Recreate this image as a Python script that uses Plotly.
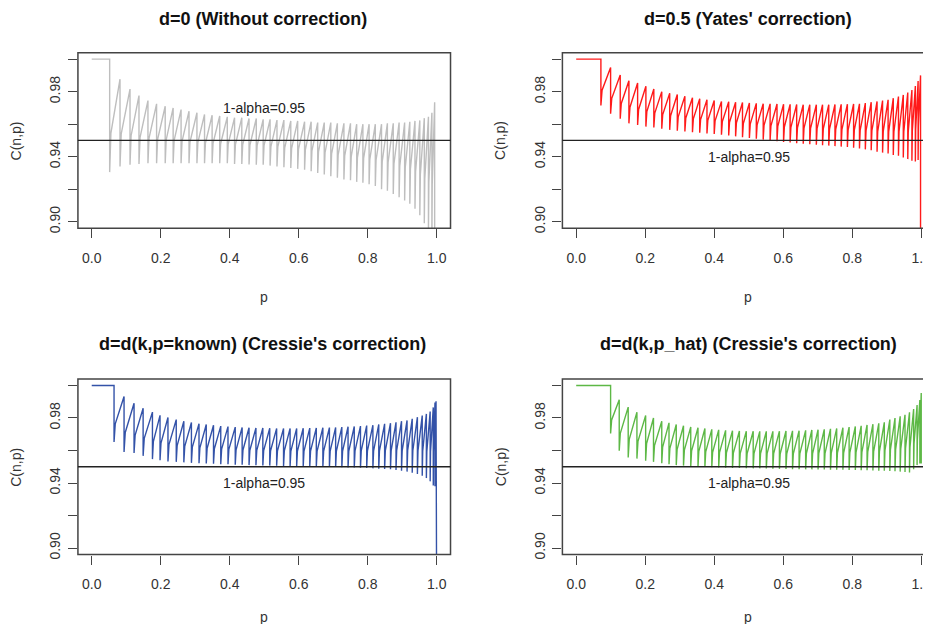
import plotly.graph_objects as go

# ---------------- data ----------------
# Each panel: jump locations of the coverage curve, the value just after each
# downward jump (tooth bottom) and the value reached at the end of each tooth (tooth top).
p_end = 1.0

jumps_d0 = [0.052, 0.082, 0.111, 0.137, 0.163, 0.188, 0.213, 0.236, 0.259, 0.282,
            0.305, 0.327, 0.349, 0.371, 0.393, 0.414, 0.435, 0.456, 0.477, 0.497,
            0.517, 0.537, 0.557, 0.577, 0.597, 0.617, 0.636, 0.655, 0.674, 0.693,
            0.712, 0.731, 0.750, 0.768, 0.786, 0.804, 0.822, 0.840, 0.857, 0.874,
            0.891, 0.907, 0.922, 0.937, 0.951, 0.964, 0.976, 0.986, 0.994]
lows_d0 = [0.9305, 0.934, 0.935, 0.9355, 0.936, 0.936, 0.936, 0.936, 0.936, 0.936,
           0.936, 0.936, 0.936, 0.936, 0.936, 0.9355, 0.9355, 0.9352, 0.935, 0.935,
           0.9345, 0.934, 0.9335, 0.933, 0.9325, 0.932, 0.931, 0.930, 0.929, 0.928,
           0.927, 0.926, 0.9255, 0.9245, 0.924, 0.923, 0.922, 0.920, 0.919, 0.917,
           0.915, 0.913, 0.911, 0.908, 0.904, 0.899, 0.893, 0.886, 0.875]
highs_d0 = [0.9877, 0.9816, 0.9776, 0.9745, 0.9725, 0.971, 0.970, 0.969, 0.968, 0.967,
            0.966, 0.9655, 0.965, 0.9645, 0.964, 0.964, 0.9635, 0.9635, 0.963, 0.963,
            0.9625, 0.9625, 0.962, 0.962, 0.9615, 0.9615, 0.961, 0.961, 0.961, 0.9605,
            0.9605, 0.9605, 0.960, 0.960, 0.960, 0.960, 0.960, 0.9605, 0.9605, 0.961,
            0.961, 0.9615, 0.962, 0.9623, 0.9637, 0.9645, 0.967, 0.9735, 0.890]

jumps_yates = [0.0716, 0.0997, 0.1276, 0.1528, 0.178, 0.202, 0.225, 0.248, 0.271, 0.293,
               0.315, 0.337, 0.358, 0.379, 0.400, 0.421, 0.442, 0.462, 0.482, 0.502,
               0.522, 0.542, 0.562, 0.582, 0.601, 0.620, 0.639, 0.658, 0.677, 0.696,
               0.714, 0.732, 0.750, 0.768, 0.786, 0.804, 0.821, 0.838, 0.855, 0.872,
               0.888, 0.904, 0.919, 0.934, 0.948, 0.961, 0.973, 0.983, 0.991, 0.998]
lows_yates = [0.9715, 0.9664, 0.9634, 0.9605, 0.9595, 0.9585, 0.958, 0.9572, 0.9565, 0.956,
              0.9555, 0.955, 0.9547, 0.9543, 0.954, 0.9535, 0.953, 0.9525, 0.952, 0.9515,
              0.951, 0.9505, 0.950, 0.9495, 0.949, 0.9487, 0.9483, 0.948, 0.9477, 0.9474,
              0.9471, 0.9468, 0.9465, 0.9462, 0.946, 0.9455, 0.945, 0.9445, 0.944, 0.943,
              0.9425, 0.942, 0.941, 0.9405, 0.9395, 0.9385, 0.9375, 0.937, 0.938, 0.850]
highs_yates = [0.9949, 0.9902, 0.9867, 0.9853, 0.9833, 0.9816, 0.980, 0.979, 0.9782, 0.9772,
               0.9763, 0.9756, 0.975, 0.9745, 0.974, 0.9738, 0.9735, 0.9733, 0.973, 0.9728,
               0.9726, 0.9725, 0.9724, 0.9723, 0.9722, 0.9721, 0.972, 0.972, 0.972, 0.972,
               0.972, 0.9721, 0.9722, 0.9723, 0.9724, 0.9725, 0.973, 0.9735, 0.974, 0.9745,
               0.975, 0.976, 0.977, 0.978, 0.9795, 0.981, 0.9835, 0.9865, 0.990, 0.850]

jumps_known = [0.0647, 0.0937, 0.1227, 0.149, 0.176, 0.198, 0.221, 0.245, 0.267, 0.289,
               0.311, 0.332, 0.353, 0.374, 0.395, 0.416, 0.436, 0.456, 0.476, 0.496,
               0.516, 0.536, 0.556, 0.575, 0.594, 0.613, 0.632, 0.651, 0.670, 0.689,
               0.707, 0.725, 0.743, 0.761, 0.779, 0.797, 0.815, 0.832, 0.849, 0.866,
               0.882, 0.898, 0.914, 0.929, 0.944, 0.958, 0.970, 0.981, 0.990, 0.995,
               0.998, 1.000]
lows_known = [0.9652, 0.9591, 0.9585, 0.9567, 0.9547, 0.954, 0.9533, 0.953, 0.9527, 0.9524,
              0.9521, 0.952, 0.9518, 0.9516, 0.9515, 0.9513, 0.9512, 0.951, 0.9509, 0.9508,
              0.9507, 0.9506, 0.9505, 0.9504, 0.9503, 0.9502, 0.9501, 0.950, 0.950, 0.9499,
              0.9498, 0.9497, 0.9496, 0.9495, 0.9494, 0.9492, 0.949, 0.9488, 0.9486, 0.9484,
              0.948, 0.9476, 0.947, 0.9463, 0.9455, 0.9445, 0.943, 0.941, 0.9385, 0.938,
              0.904, 0.850]
highs_known = [0.9932, 0.9891, 0.986, 0.9836, 0.9816, 0.9803, 0.979, 0.978, 0.9772, 0.9765,
               0.976, 0.9755, 0.975, 0.9747, 0.9744, 0.9742, 0.974, 0.9739, 0.9738, 0.9737,
               0.9736, 0.9736, 0.9736, 0.9736, 0.9737, 0.9738, 0.9739, 0.974, 0.9741, 0.9742,
               0.9744, 0.9746, 0.9748, 0.975, 0.9753, 0.9756, 0.976, 0.9764, 0.9768, 0.9773,
               0.978, 0.9785, 0.9795, 0.9805, 0.9815, 0.9825, 0.984, 0.9865, 0.9895, 0.9903,
               0.904, 0.850]

jumps_phat = [0.0997, 0.1247, 0.1507, 0.176, 0.2013, 0.224, 0.248, 0.269, 0.290, 0.311,
              0.332, 0.353, 0.373, 0.393, 0.413, 0.433, 0.453, 0.473, 0.493, 0.513,
              0.532, 0.551, 0.570, 0.589, 0.608, 0.627, 0.646, 0.665, 0.683, 0.701,
              0.719, 0.737, 0.755, 0.773, 0.791, 0.809, 0.826, 0.843, 0.860, 0.877,
              0.893, 0.909, 0.924, 0.939, 0.953, 0.966, 0.978, 0.988, 0.996, 1.000]
lows_phat = [0.9705, 0.9598, 0.9557, 0.955, 0.9537, 0.953, 0.9522, 0.9516, 0.951, 0.9507,
             0.9504, 0.9501, 0.9499, 0.9497, 0.9495, 0.9494, 0.9493, 0.9492, 0.9491, 0.949,
             0.949, 0.9489, 0.9488, 0.9487, 0.9486, 0.9485, 0.9485, 0.9484, 0.9484, 0.9483,
             0.9483, 0.9482, 0.9482, 0.9481, 0.948, 0.948, 0.9479, 0.9478, 0.9477, 0.9476,
             0.9475, 0.9474, 0.9472, 0.947, 0.9468, 0.9465, 0.9485, 0.951, 0.952, 0.952]
highs_phat = [0.9912, 0.9867, 0.9835, 0.9815, 0.980, 0.978, 0.977, 0.976, 0.9752, 0.9745,
              0.974, 0.9735, 0.973, 0.9727, 0.9724, 0.9722, 0.972, 0.9719, 0.9718, 0.9718,
              0.9718, 0.9718, 0.9719, 0.972, 0.9721, 0.9722, 0.9724, 0.9726, 0.9728, 0.973,
              0.9733, 0.9736, 0.974, 0.9744, 0.9748, 0.9752, 0.9757, 0.9762, 0.9767, 0.9773,
              0.979, 0.980, 0.981, 0.982, 0.9835, 0.9855, 0.988, 0.991, 0.9954, 0.952]

# shape of each tooth: the curve climbs steeply right after
# a jump (knee reached at ~12% of the tooth width, ~42% of the rise), then rises evenly
knee_at = [0.12, 0.12, 0.12, 0.12]
knee_rise = [0.42, 0.40, 0.40, 0.40]

alpha_level = 0.95
label_text = "1-alpha=0.95"
label_y = [0.97, 0.94, 0.94, 0.94]
label_x = 0.5

titles = ["d=0 (Without correction)", "d=0.5 (Yates' correction)",
          "d=d(k,p=known) (Cressie's correction)", "d=d(k,p_hat) (Cressie's correction)"]
colors = ["#BEBEBE", "#FF1A1A", "#3352A8", "#5DB846"]
x_ticks = [0.0, 0.2, 0.4, 0.6, 0.8, 1.0]
x_ticktext = ["0.0", "0.2", "0.4", "0.6", "0.8", "1.0"]
y_ticks = [0.90, 0.92, 0.94, 0.96, 0.98, 1.00]
y_ticktext = ["0.90", "", "0.94", "", "0.98", ""]

series = [(jumps_d0, lows_d0, highs_d0), (jumps_yates, lows_yates, highs_yates),
          (jumps_known, lows_known, highs_known), (jumps_phat, lows_phat, highs_phat)]

# ---------------- layout geometry ----------------
OFF = 8                      # page body margin of the browser
W, H = 931 - OFF, 632 - 2 * OFF   # keep the page from overflowing vertically
FONT = "Liberation Sans, Arial, sans-serif"
TXT = "#333333"

def px(x):
    return (x - OFF) / W

def py(y):
    return 1 - (y - OFF) / H

# plot boxes in reference pixels (left, right, top, bottom)
boxes = [(78, 451, 53, 230), (563, 931, 53, 230), (78, 451, 382, 559), (563, 931, 382, 559)]
xranges = [[-0.04, 1.04], [-0.04, -0.04 + 368 / 345.4], [-0.04, 1.04], [-0.04, -0.04 + 368 / 345.4]]
yrange = [0.896, 1.004]

fig = go.Figure()

def build_curve(jumps, lows, highs, ka, kr):
    xs = [0.0, jumps[0]]
    ys = [1.0, 1.0]
    for i in range(len(jumps)):
        end = jumps[i + 1] if i + 1 < len(jumps) else p_end
        xs += [jumps[i], jumps[i] + ka * (end - jumps[i]), end]
        ys += [lows[i], lows[i] + kr * (highs[i] - lows[i]), highs[i]]
    return xs, ys

for k, (j, lo, hi) in enumerate(series):
    xs, ys = build_curve(j, lo, hi, knee_at[k], knee_rise[k])
    ax = "" if k == 0 else str(k + 1)
    fig.add_trace(go.Scatter(x=xs, y=ys, mode="lines", xaxis="x" + ax, yaxis="y" + ax,
                             line=dict(color=colors[k], width=1.4), showlegend=False,
                             hoverinfo="skip"))

shapes = []
annotations = []
for k, (l, r, t, b) in enumerate(boxes):
    ax = "" if k == 0 else str(k + 1)
    common = dict(showgrid=False, zeroline=False, showline=False, ticks="outside",
                  ticklen=9, tickwidth=1, tickcolor="#444444", ticklabeloverflow="allow",
                  tickfont=dict(family=FONT, size=14, color=TXT))
    fig.layout["xaxis" + ax] = dict(domain=[px(l), min(px(r), 1.0)], range=xranges[k],
                                    anchor="y" + ax, tickvals=x_ticks, ticktext=x_ticktext,
                                    ticklabelstandoff=8, **common)
    fig.layout["yaxis" + ax] = dict(domain=[py(b), py(t)], range=yrange, anchor="x" + ax,
                                    tickvals=y_ticks, ticktext=y_ticktext, tickangle=-90,
                                    ticklabelstandoff=2, **common)
    # box around plot region
    shapes.append(dict(type="rect", xref="x" + ax + " domain", yref="y" + ax + " domain",
                       x0=0, x1=1.0 if k % 2 == 0 else 1.02, y0=0, y1=1,
                       line=dict(color="#444444", width=1.5), layer="above"))
    # reference line 1-alpha
    shapes.append(dict(type="line", xref="x" + ax + " domain", yref="y" + ax,
                       x0=0, x1=1, y0=alpha_level, y1=alpha_level,
                       line=dict(color="#222222", width=1.3), layer="above"))
    annotations.append(dict(x=label_x, y=label_y[k], xref="x" + ax, yref="y" + ax,
                            text=label_text, showarrow=False,
                            font=dict(family=FONT, size=14, color="#222222")))
    cx = 263 if k % 2 == 0 else 749
    annotations.append(dict(x=px(cx), y=py(19 if k < 2 else 347), xref="paper",
                            yref="paper", text="<b>" + titles[k] + "</b>", showarrow=False,
                            xanchor="center", yanchor="middle",
                            font=dict(family=FONT, size=18, color="#111111")))
    annotations.append(dict(x=px(264 if k % 2 == 0 else 749),
                            y=py(b + 69 if k < 2 else b + 63), xref="paper",
                            yref="paper", text="p", showarrow=False,
                            xanchor="center", yanchor="middle",
                            font=dict(family=FONT, size=14, color=TXT)))
    annotations.append(dict(x=px(l - 62), y=py((t + b) / 2), xref="paper",
                            yref="paper", text="C(n,p)", showarrow=False, textangle=-90,
                            xanchor="center", yanchor="middle",
                            font=dict(family=FONT, size=14, color=TXT)))

fig.update_layout(width=W, height=H, margin=dict(l=0, r=0, t=0, b=0),
                  paper_bgcolor="white", plot_bgcolor="white",
                  shapes=shapes, annotations=annotations)

fig.write_html("out.html")
